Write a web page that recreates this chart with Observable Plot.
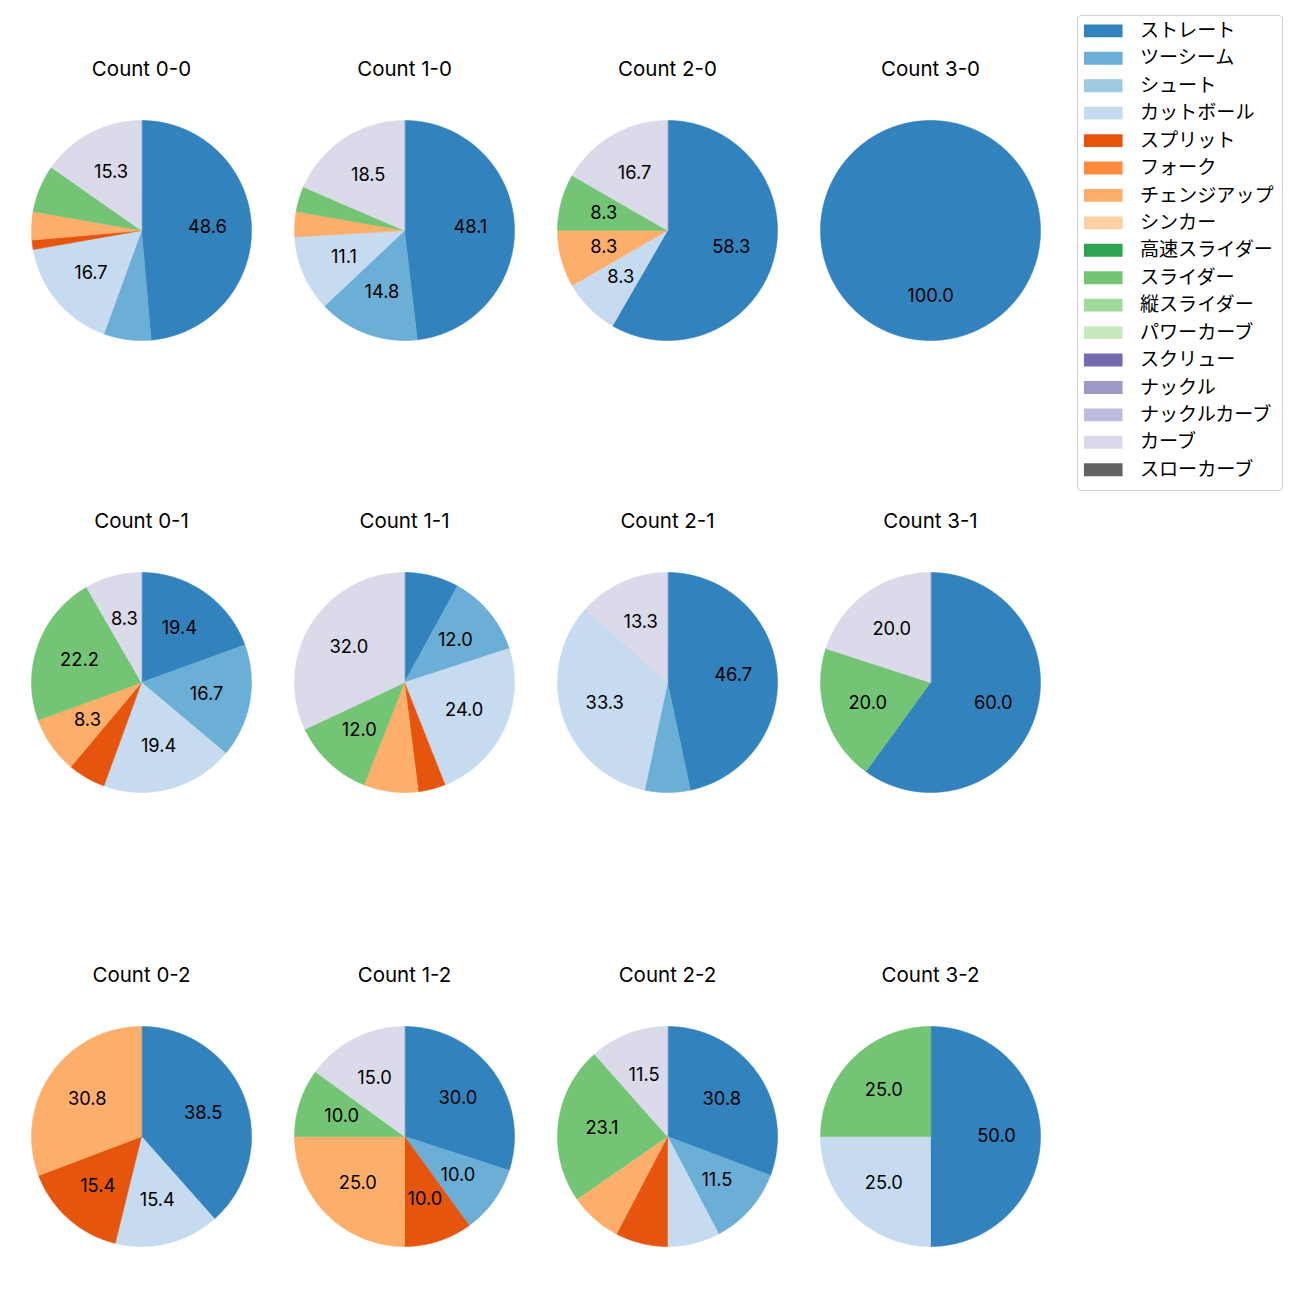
<!DOCTYPE html>
<html><head><meta charset="utf-8">
<script src="https://cdn.jsdelivr.net/npm/d3@7"></script>
<script src="https://cdn.jsdelivr.net/npm/@observablehq/plot@0.6"></script>
<style>
body{margin:0;background:#fff;font-family:Inter,"Noto Sans CJK JP",sans-serif;}
#root{position:relative;width:1300px;height:1300px;overflow:hidden;}
.pie{position:absolute;}
#legend{position:absolute;left:1077px;top:15px;width:206px;height:476px;border:1px solid #d3d3d3;border-radius:4px;box-sizing:border-box;background:#fff;}
#legend svg{position:absolute;left:-1px;top:-1px;}
</style></head><body><div id="root"></div>
<script>
const pitches = ["ストレート","ツーシーム","シュート","カットボール","スプリット","フォーク","チェンジアップ","シンカー","高速スライダー","スライダー","縦スライダー","パワーカーブ","スクリュー","ナックル","ナックルカーブ","カーブ","スローカーブ"];
const colors = ["#3182bd","#6baed6","#9ecae1","#c6dbef","#e6550d","#fd8d3c","#fdae6b","#fdd0a2","#31a354","#74c476","#a1d99b","#c7e9c0","#756bb1","#9e9ac8","#bcbddc","#dadaeb","#636363"];
const titles = ["Count 0-0","Count 1-0","Count 2-0","Count 3-0","Count 0-1","Count 1-1","Count 2-1","Count 3-1","Count 0-2","Count 1-2","Count 2-2","Count 3-2"];
// pitch counts, in the order of `pitches`
const count00 = [35,5,0,12,1,0,3,0,0,5,0,0,0,0,0,11,0];
const count10 = [13,4,0,3,0,0,1,0,0,1,0,0,0,0,0,5,0];
const count20 = [7,0,0,1,0,0,1,0,0,1,0,0,0,0,0,2,0];
const count30 = [1,0,0,0,0,0,0,0,0,0,0,0,0,0,0,0,0];
const count01 = [7,6,0,7,2,0,3,0,0,8,0,0,0,0,0,3,0];
const count11 = [2,3,0,6,1,0,2,0,0,3,0,0,0,0,0,8,0];
const count21 = [7,1,0,5,0,0,0,0,0,0,0,0,0,0,0,2,0];
const count31 = [3,0,0,0,0,0,0,0,0,1,0,0,0,0,0,1,0];
const count02 = [5,0,0,2,2,0,4,0,0,0,0,0,0,0,0,0,0];
const count12 = [6,2,0,0,2,0,5,0,0,2,0,0,0,0,0,3,0];
const count22 = [8,3,0,2,2,0,2,0,0,6,0,0,0,0,0,3,0];
const count32 = [2,0,0,1,0,0,0,0,0,1,0,0,0,0,0,0,0];
const allCounts = [count00,count10,count20,count30,count01,count11,count21,count31,count02,count12,count22,count32];

// layout
const colX = [141,404,667,930];
const rowY = [229.5,682,1135.5];
const R = 110;
const W = 264, H = 340, TOP = 190; // svg size and center offset from svg top
const titleOffset = 161;
const FONT = 'Inter, "Noto Sans CJK JP", sans-serif';

const root = document.getElementById("root");
const colorScale = {domain: pitches, range: colors};

allCounts.forEach((counts, i) => {
  const total = d3.sum(counts);
  const poly = [];
  const labels = [];
  let acc = 0;
  counts.forEach((c, k) => {
    if (c <= 0) return;
    const a0 = acc / total * 2 * Math.PI;
    acc += c;
    const a1 = acc / total * 2 * Math.PI;
    const n = Math.max(2, Math.ceil((a1 - a0) / (Math.PI / 360)));
    const full = (a1 - a0) >= 2 * Math.PI - 1e-9;
    if (!full) poly.push({slice: k, pitch: pitches[k], x: 0, y: 0});
    for (let j = 0; j <= n; j++) {
      const a = a0 + (a1 - a0) * j / n;
      poly.push({slice: k, pitch: pitches[k], x: Math.sin(a), y: Math.cos(a)});
    }
    const pct = c / total * 100;
    const am = (a0 + a1) / 2;
    if (pct > 8) labels.push({x: 0.6 * Math.sin(am), y: 0.6 * Math.cos(am), text: pct.toFixed(1)});
  });
  const chart = Plot.plot({
    width: W, height: H, margin: 0,
    x: {domain: [-(W / 2) / R, (W / 2) / R], axis: null},
    y: {domain: [-(H - TOP) / R, TOP / R], axis: null},
    color: colorScale,
    style: {fontFamily: FONT, background: "transparent"},
    marks: [
      Plot.line(poly, {x: "x", y: "y", z: "slice", fill: "pitch", stroke: "pitch", strokeWidth: 0.6, curve: "linear-closed"}),
      Plot.text(labels, {x: "x", y: "y", text: "text", fontSize: 18.3, fill: "#000"}),
      Plot.text([titles[i]], {frameAnchor: "top", dy: TOP - titleOffset, text: d => d, fontSize: 20.5, fill: "#000", lineAnchor: "middle"})
    ]
  });
  const div = document.createElement("div");
  div.className = "pie";
  div.style.left = (colX[i % 4] - W / 2) + "px";
  div.style.top = (rowY[Math.floor(i / 4)] - TOP) + "px";
  div.appendChild(chart);
  root.appendChild(div);
});

// legend
const LW = 206, LH = 476;
const legend = Plot.plot({
  width: LW, height: LH, margin: 0,
  y: {type: "point", domain: pitches, range: [15.5, 458.7], padding: 0, round: false, axis: null},
  color: colorScale,
  style: {fontFamily: '"Noto Sans CJK JP", sans-serif', background: "transparent"},
  marks: [
    Plot.ruleY(pitches, {y: d => d, stroke: d => d, strokeWidth: 13, insetLeft: 7, insetRight: LW - 46}),
    Plot.text(pitches, {y: d => d, text: d => d, frameAnchor: "left", dx: 63, textAnchor: "start", fontSize: 19.3, fill: "#000"})
  ]
});
const ldiv = document.createElement("div");
ldiv.id = "legend";
ldiv.appendChild(legend);
root.appendChild(ldiv);
</script></body></html>
